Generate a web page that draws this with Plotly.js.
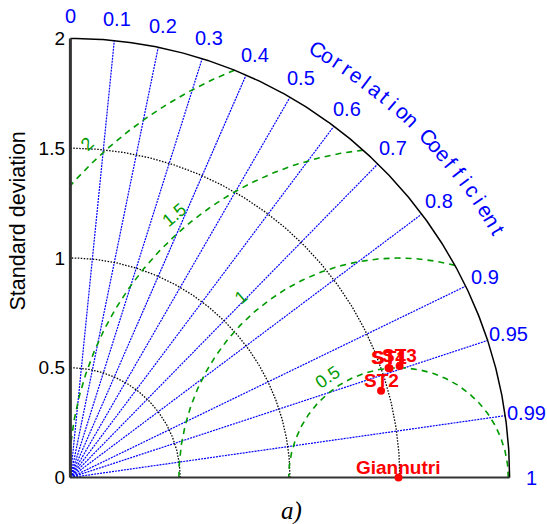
<!DOCTYPE html>
<html>
<head>
<meta charset="utf-8">
<script src="https://cdn.plot.ly/plotly-3.0.1.min.js"></script>
<style>html,body{margin:0;padding:0;background:#fff;}#chart{width:547px;height:524px;}</style>
</head>
<body>
<div id="chart"></div>
<script>
// ---- data ----
const sdTicks = [0, 0.5, 1, 1.5, 2];
const sdTickLabels = ['0', '0.5', '1', '1.5', '2'];
const corrTicks = [0, 0.1, 0.2, 0.3, 0.4, 0.5, 0.6, 0.7, 0.8, 0.9, 0.95, 0.99, 1];
const corrLabels = ['0', '0.1', '0.2', '0.3', '0.4', '0.5', '0.6', '0.7', '0.8', '0.9', '0.95', '0.99', '1'];
const rmsLevels = [0.5, 1, 1.5, 2];
const rmsLabels = ['0.5', '1', '1.5', '2'];
const stations = ['Giannutri', 'ST1', 'ST2', 'ST3', 'ST4'];
const stdDev = [1.494, 1.536, 1.469, 1.583, 1.532];
const corrCoef = [1, 0.946, 0.963, 0.947, 0.9455];
const yTitle = 'Standard deviation';
const corrTitle = 'Correlation Coefficient';
const panelLabel = 'a)';

// ---- geometry helpers ----
const rMax = sdTicks[sdTicks.length - 1];
const refSD = stdDev[0];
const xr = [-0.02, 2.02], yr = [-0.02, 2.02];
const FONT = 'Liberation Sans, Arial, sans-serif';
function toXY(sd, c) { return [sd * c, sd * Math.sqrt(Math.max(0, 1 - c * c))]; }
function px(x) { return (x - xr[0]) / (xr[1] - xr[0]); }
function py(y) { return (y - yr[0]) / (yr[1] - yr[0]); }

const traces = [];

// radial correlation lines
{
  const xs = [], ys = [];
  corrTicks.forEach(c => {
    if (c <= 0 || c >= 1) return;
    const p = toXY(rMax, c);
    xs.push(0, p[0], null); ys.push(0, p[1], null);
  });
  traces.push({x: xs, y: ys, mode: 'lines', line: {color: '#0000ff', width: 1.2, dash: '2px,1px'}, hoverinfo: 'skip'});
}
// std dev dotted arcs
{
  const xs = [], ys = [];
  sdTicks.forEach(r => {
    if (r <= 0 || r >= rMax) return;
    for (let i = 0; i <= 180; i++) {
      const a = i / 180 * Math.PI / 2;
      xs.push(r * Math.cos(a)); ys.push(r * Math.sin(a));
    }
    xs.push(null); ys.push(null);
  });
  traces.push({x: xs, y: ys, mode: 'lines', line: {color: '#000', width: 1.3, dash: '1.5px,1.5px'}, hoverinfo: 'skip'});
}
// RMS dashed circles
{
  const xs = [], ys = [];
  rmsLevels.forEach(R => {
    let cs = (rMax * rMax - refSD * refSD - R * R) / (2 * refSD * R);
    const t0 = cs >= 1 ? 0 : Math.acos(Math.max(-1, cs));
    const t1 = R > refSD ? Math.acos(-refSD / R) : Math.PI;
    for (let i = 0; i <= 300; i++) {
      const t = t0 + (t1 - t0) * i / 300;
      xs.push(refSD + R * Math.cos(t)); ys.push(R * Math.sin(t));
    }
    xs.push(null); ys.push(null);
  });
  traces.push({x: xs, y: ys, mode: 'lines', line: {color: 'rgb(0,155,0)', width: 1.6, dash: '6px,5px'}, hoverinfo: 'skip'});
}
// outer arc
{
  const xs = [], ys = [];
  for (let i = 0; i <= 360; i++) {
    const a = i / 360 * Math.PI / 2;
    xs.push(rMax * Math.cos(a)); ys.push(rMax * Math.sin(a));
  }
  traces.push({x: xs, y: ys, mode: 'lines', line: {color: '#000', width: 1.5}, hoverinfo: 'skip'});
}
// axes lines
traces.push({x: [0, 0], y: [0, rMax], mode: 'lines', line: {color: '#333', width: 3}, hoverinfo: 'skip'});
traces.push({x: [0, rMax], y: [0, 0], mode: 'lines', line: {color: '#333', width: 2}, hoverinfo: 'skip'});

// points
const ptX = [], ptY = [];
stations.forEach((s, i) => { const p = toXY(stdDev[i], corrCoef[i]); ptX.push(p[0]); ptY.push(p[1]); });
traces.push({x: ptX, y: ptY, mode: 'markers', marker: {color: '#ff0000', size: 8}, cliponaxis: false, hoverinfo: 'skip'});

// ---- annotations ----
const ann = [];
// correlation tick labels
corrTicks.forEach((c, i) => {
  const p = toXY(2.1, c);
  ann.push({xref: 'paper', yref: 'paper', x: px(p[0]), y: py(p[1]), text: corrLabels[i], showarrow: false,
    xanchor: 'center', yanchor: 'middle', font: {family: FONT, size: 20, color: '#0000ff'}});
});
// curved correlation title
{
  const chars = corrTitle.split('');
  const n = chars.length - 1;
  chars.forEach((ch, k) => {
    if (ch === ' ') return;
    const th = 60 - k * 30 / n;
    const a = th * Math.PI / 180;
    ann.push({xref: 'paper', yref: 'paper', x: px(2.25 * Math.cos(a)), y: py(2.25 * Math.sin(a)), text: ch, showarrow: false,
      xanchor: 'center', yanchor: 'middle', textangle: 90 - th, font: {family: FONT, size: 21, color: '#0000ff'}});
  });
}
// RMS labels
const rmsAng = [125, 131, 130.5, 133];
const rmsOff = [0.06, 0.09, 0.07, 0.08];
rmsLevels.forEach((R, i) => {
  const a = rmsAng[i] * Math.PI / 180;
  const rr = R + rmsOff[i];
  ann.push({x: refSD + rr * Math.cos(a), y: rr * Math.sin(a), text: rmsLabels[i], showarrow: false,
    xanchor: 'center', yanchor: 'middle', textangle: -(rmsAng[i] - 90), font: {family: FONT, size: 18, color: 'rgb(0,155,0)'}});
});
// station labels
stations.forEach((s, i) => {
  ann.push({xref: 'paper', yref: 'paper', x: px(ptX[i]), y: py(ptY[i]), text: '<b>' + s + '</b>', showarrow: false,
    xanchor: 'center', yanchor: 'bottom', yshift: -2, font: {family: FONT, size: 19, color: '#ff0000'}});
});
// y title
ann.push({xref: 'paper', yref: 'paper', x: (17 - 66) / 448, y: (482 - 221.5) / 448, text: yTitle, showarrow: false,
  textangle: -90, xanchor: 'center', yanchor: 'middle', font: {family: FONT, size: 21.5, color: '#000'}});
// panel label
ann.push({xref: 'paper', yref: 'paper', x: (291 - 66) / 448, y: (482 - 511) / 448, text: '<i>' + panelLabel + '</i>', showarrow: false,
  xanchor: 'center', yanchor: 'middle', font: {family: 'Liberation Serif, Times New Roman, serif', size: 25, color: '#000'}});

const layout = {
  width: 547, height: 524,
  margin: {l: 66, r: 33, t: 34, b: 42, pad: 0},
  paper_bgcolor: '#fff', plot_bgcolor: '#fff',
  showlegend: false, hovermode: false,
  xaxis: {range: xr, showgrid: false, zeroline: false, showline: false, showticklabels: false, ticks: '', fixedrange: true},
  yaxis: {range: yr, showgrid: false, zeroline: false, showline: false, ticks: '',
    tickvals: sdTicks, ticktext: sdTickLabels, tickfont: {family: FONT, size: 19, color: '#000'}, fixedrange: true},
  annotations: ann
};
Plotly.newPlot('chart', traces, layout, {staticPlot: true, displayModeBar: false});
</script>
</body>
</html>
